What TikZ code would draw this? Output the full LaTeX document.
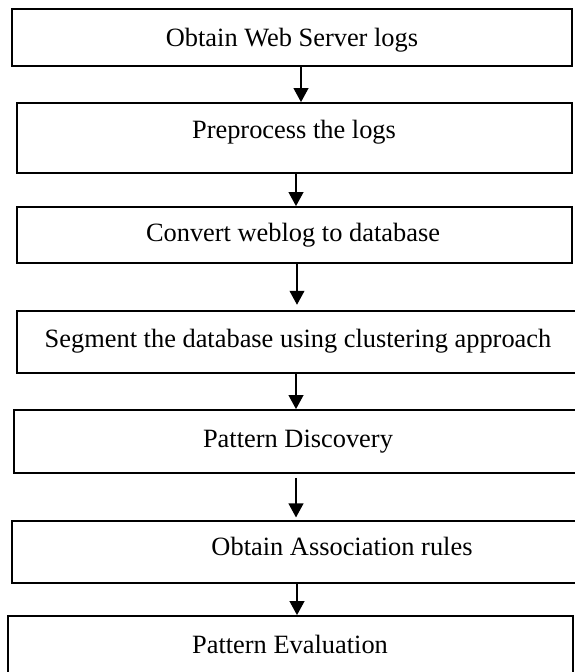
\documentclass[tikz,border=0pt]{standalone}
\usepackage{fontspec}
\setmainfont{Liberation Serif}
\usetikzlibrary{arrows.meta,positioning,fit}
\definecolor{flline}{HTML}{000000}
\definecolor{flpage}{HTML}{FFFFFF}

\begin{document}
\begin{tikzpicture}[x=0.75pt, y=-0.75pt,
    stepbox/.style={draw=flline, line width=1.3pt, inner sep=0pt},
    steptext/.style={font=\fontsize{19.8}{24}\selectfont, anchor=base, inner sep=0pt},
    flow/.style={draw=flline, line width=1.4pt, -{Triangle[length=10.5pt, width=11pt]}}]
  \fill[flpage] (0,0) rectangle (575,672);
  \clip (0,0) rectangle (575,672);
  % the seven steps, top to bottom
  \node[stepbox, fit={(12,9) (572,66)}]    (logs)   {};
  \node[stepbox, fit={(17,103) (572,173)}] (prep)   {};
  \node[stepbox, fit={(17,207) (572,263)}] (conv)   {};
  \node[stepbox, fit={(17,311) (590,373)}] (seg)    {};
  \node[stepbox, fit={(14,410) (590,473)}] (disc)   {};
  \node[stepbox, fit={(12,521) (600,583)}] (assoc)  {};
  \node[stepbox, fit={(8,616) (573,700)}]  (eval)   {};
  \node[steptext] (logs-t)  at (292,46)  {Obtain Web Server logs};
  \node[steptext] (prep-t)  at (294,138) {Preprocess the logs};
  \node[steptext] (conv-t)  at (293,241) {Convert weblog to database};
  \node[steptext] (seg-t)   at (298,347) {Segment the database using clustering approach};
  \node[steptext] (disc-t)  at (298,447) {Pattern Discovery};
  \node[steptext] (assoc-t) at (342,555) {Obtain Association rules};
  \node[steptext] (eval-t)  at (290,653) {Pattern Evaluation};
  % connectors
  \draw[flow] (logs.south -| 301,0)  -- (prep.north -| 301,0);
  \draw[flow] (prep.south -| 296,0)  -- (conv.north -| 296,0);
  \draw[flow] (conv.south -| 297,0)  -- ([yshift=4pt]seg.north -| 297,0);
  \draw[flow] (seg.south -| 296,0)   -- (disc.north -| 296,0);
  \draw[flow] ([yshift=-3pt]disc.south -| 296,0) -- ([yshift=2pt]assoc.north -| 296,0);
  \draw[flow] (assoc.south -| 297,0) -- (eval.north -| 297,0);
\end{tikzpicture}
\end{document}
